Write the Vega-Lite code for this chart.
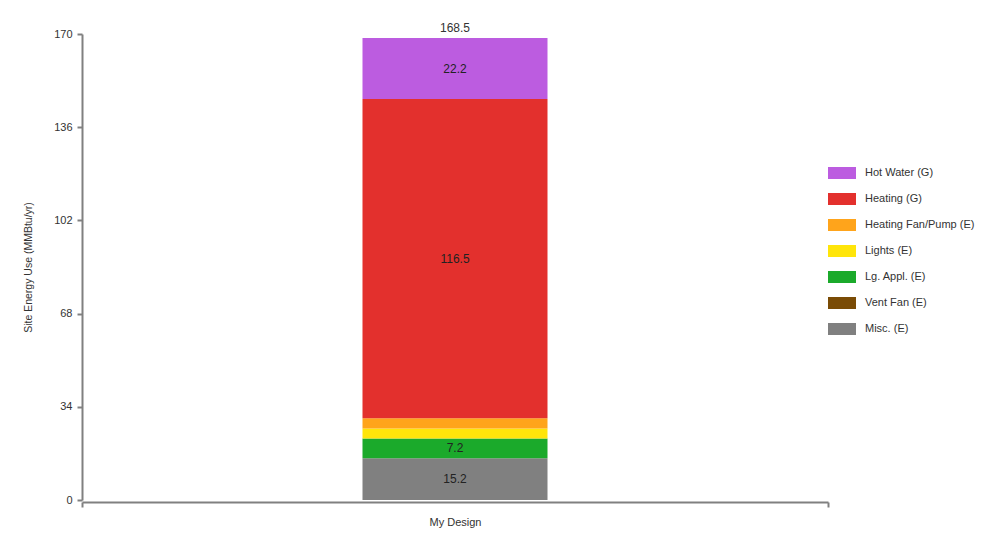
{
  "$schema": "https://vega.github.io/schema/vega-lite/v6.json",
  "width": 746,
  "height": 466,
  "autosize": {"type": "none"},
  "padding": {"left": 82, "top": 34, "right": 171, "bottom": 41},
  "background": "white",
  "config": {
    "font": "Liberation Sans",
    "view": {"stroke": null},
    "axis": {"labelFont": "Liberation Sans", "titleFont": "Liberation Sans"}
  },
  "data": {
    "values": [
      {"design": "My Design", "category": "Misc. (E)", "value": 15.2, "order": 1},
      {"design": "My Design", "category": "Vent Fan (E)", "value": 0, "order": 2},
      {"design": "My Design", "category": "Lg. Appl. (E)", "value": 7.2, "order": 3},
      {"design": "My Design", "category": "Lights (E)", "value": 3.7, "order": 4},
      {"design": "My Design", "category": "Heating Fan/Pump (E)", "value": 3.7, "order": 5},
      {"design": "My Design", "category": "Heating (G)", "value": 116.5, "order": 6},
      {"design": "My Design", "category": "Hot Water (G)", "value": 22.2, "order": 7}
    ]
  },
  "encoding": {
    "x": {
      "field": "design",
      "type": "nominal",
      "scale": {"paddingInner": 0, "paddingOuter": 0},
      "axis": {
        "title": null,
        "labelAngle": 0,
        "domainColor": "#808080",
        "domainWidth": 2,
        "tickColor": "#808080",
        "tickWidth": 2,
        "tickSize": 5,
        "tickBand": "extent",
        "offset": 2,
        "labelColor": "#333333",
        "labelFontSize": 11,
        "labelPadding": 9
      }
    }
  },
  "layer": [
    {
      "mark": {"type": "bar", "width": {"band": 0.248}},
      "encoding": {
        "y": {
          "field": "value",
          "type": "quantitative",
          "stack": "zero",
          "scale": {"domain": [0, 170], "nice": false},
          "axis": {
            "title": "Site Energy Use (MMBtu/yr)",
            "values": [0, 34, 68, 102, 136, 170],
            "grid": false,
            "domainColor": "#808080",
            "domainWidth": 2,
            "tickColor": "#808080",
            "tickWidth": 2,
            "tickSize": 5,
            "labelPadding": 5,
            "labelColor": "#333333",
            "labelFontSize": 11,
            "titleColor": "#333333",
            "titleFontSize": 10.5,
            "titleFontWeight": "normal",
            "titlePadding": 20
          }
        },
        "color": {
          "field": "category",
          "type": "nominal",
          "scale": {
            "domain": ["Hot Water (G)", "Heating (G)", "Heating Fan/Pump (E)", "Lights (E)", "Lg. Appl. (E)", "Vent Fan (E)", "Misc. (E)"],
            "range": ["#BC5CE0", "#E3302D", "#FFA41B", "#FFE50A", "#1BAA2B", "#7A4B05", "#808080"]
          },
          "legend": {
            "title": null,
            "orient": "none",
            "legendX": 746,
            "legendY": 125,
            "symbolType": "M-1,-0.43H1V0.43H-1Z",
            "symbolSize": 784,
            "symbolStrokeWidth": 0,
            "symbolOpacity": 1,
            "labelFontSize": 11,
            "labelColor": "#333333",
            "labelOffset": 9,
            "rowPadding": 5
          }
        },
        "order": {"field": "order", "type": "quantitative"}
      }
    },
    {
      "transform": [
        {"stack": "value", "groupby": ["design"], "sort": [{"field": "order", "order": "ascending"}], "as": ["v0", "v1"]},
        {"calculate": "(datum.v0 + datum.v1) / 2", "as": "mid"},
        {"filter": "datum.value > 5"}
      ],
      "mark": {"type": "text", "fontSize": 12, "color": "#222222"},
      "encoding": {
        "y": {"field": "mid", "type": "quantitative"},
        "text": {"field": "value", "type": "quantitative", "format": ".1f"}
      }
    },
    {
      "transform": [
        {"aggregate": [{"op": "sum", "field": "value", "as": "total"}], "groupby": ["design"]}
      ],
      "mark": {"type": "text", "fontSize": 12, "color": "#333333", "baseline": "bottom", "dy": -3},
      "encoding": {
        "y": {"field": "total", "type": "quantitative"},
        "text": {"field": "total", "type": "quantitative", "format": ".1f"}
      }
    }
  ]
}
